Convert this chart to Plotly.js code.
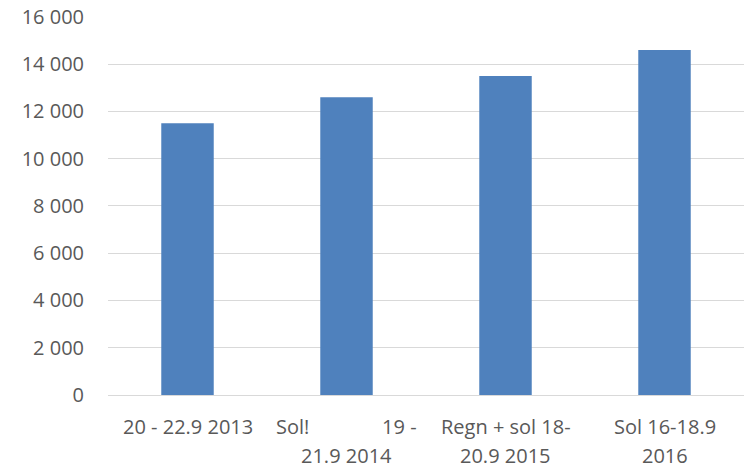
<!DOCTYPE html>
<html><head><meta charset="utf-8">
<script src="https://cdn.plot.ly/plotly-3.0.1.min.js"></script>
<style>body{margin:0;padding:0;background:#fff}#chart{width:748px;height:468px}</style>
</head><body><div id="chart"></div>
<script>
const categories = ["2013", "2014", "2015", "2016"];
const visitors = [11500, 12600, 13500, 14600];
const labelLine1 = ["20 - 22.9 2013", "Sol!\u00a0\u00a0\u00a0\u00a0\u00a0\u00a0\u00a0\u00a0\u00a0\u00a0\u00a0\u00a0\u00a0\u00a019 -", "Regn + sol 18-", "Sol 16-18.9"];
const labelLine2 = ["", "21.9 2014", "20.9 2015", "2016"];
const yTicks = [0, 2000, 4000, 6000, 8000, 10000, 12000, 14000, 16000];

const font = {family: "Open Sans, sans-serif", size: 20, color: "#595959"};
const annotations = [];
categories.forEach((c, i) => {
  annotations.push({x: i, xref: "x", y: 0, yref: "paper", yanchor: "middle", yshift: -31, borderpad: 0, text: labelLine1[i], showarrow: false, font: font});
  if (labelLine2[i]) annotations.push({x: i, xref: "x", y: 0, yref: "paper", yanchor: "middle", yshift: -60, borderpad: 0, text: labelLine2[i], showarrow: false, font: font});
});

Plotly.newPlot("chart", [{
  type: "bar", x: categories, y: visitors,
  marker: {color: "#4F81BD"}, width: 0.33, hoverinfo: "none"
}], {
  width: 748, height: 468,
  margin: {l: 108, r: 4, t: 16, b: 73},
  paper_bgcolor: "#fff", plot_bgcolor: "#fff",
  separators: ", ",
  showlegend: false,
  font: font,
  xaxis: {type: "category", range: [-0.5, 3.5], autorange: false, showticklabels: false, showgrid: false, zeroline: false, showline: true, linecolor: "#D9D9D9", linewidth: 1, ticks: ""},
  yaxis: {range: [0, 16040], autorange: false, tickvals: yTicks, tickformat: ",d", showgrid: true, gridcolor: "#D9D9D9", gridwidth: 1, zeroline: false, showline: false, ticks: "", ticklabelstandoff: 23, tickfont: font},
  annotations: annotations
}, {displayModeBar: false, staticPlot: true});
</script></body></html>
